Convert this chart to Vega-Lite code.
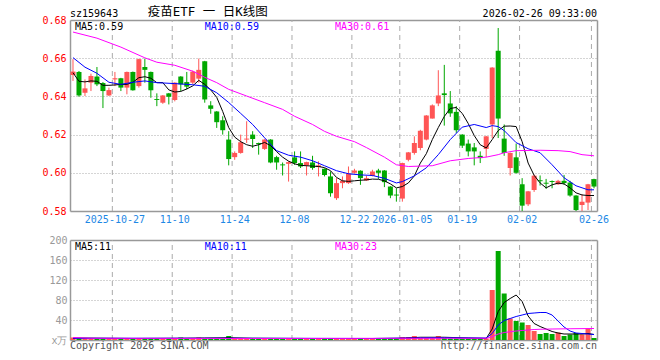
{
"$schema": "https://vega.github.io/schema/vega-lite/v6.json",
"width": 527,
"height": 320,
"autosize": "none",
"padding": {"left": 70, "top": 20, "right": 63, "bottom": 20},
"background": "white",
"config": {"view": {"stroke": null}, "font": "DejaVu Sans Mono"},
"datasets": {
"grid": [{"d":"2025-10-27"},{"d":"2025-11-10"},{"d":"2025-11-24"},{"d":"2025-12-08"},{"d":"2025-12-22"},{"d":"2026-01-05"},{"d":"2026-01-19"},{"d":"2026-02-02"},{"d":"2026-02-26"}],
"k": [
{"d":"2025-10-16","o":0.6512,"h":0.6595,"l":0.6481,"c":0.653,"v":5},
{"d":"2025-10-17","o":0.6528,"h":0.6533,"l":0.6398,"c":0.6405,"v":3},
{"d":"2025-10-20","o":0.6419,"h":0.6489,"l":0.6402,"c":0.6442,"v":3},
{"d":"2025-10-21","o":0.6472,"h":0.6519,"l":0.6428,"c":0.6507,"v":3},
{"d":"2025-10-22","o":0.6504,"h":0.6554,"l":0.6454,"c":0.6463,"v":2},
{"d":"2025-10-23","o":0.647,"h":0.6475,"l":0.6339,"c":0.6428,"v":3},
{"d":"2025-10-24","o":0.6405,"h":0.6446,"l":0.6402,"c":0.6433,"v":3},
{"d":"2025-10-27","o":0.6489,"h":0.6528,"l":0.6454,"c":0.6495,"v":2},
{"d":"2025-10-28","o":0.6495,"h":0.6497,"l":0.6428,"c":0.6446,"v":2},
{"d":"2025-10-29","o":0.6446,"h":0.653,"l":0.6411,"c":0.6528,"v":3},
{"d":"2025-10-30","o":0.6528,"h":0.653,"l":0.643,"c":0.6432,"v":2},
{"d":"2025-10-31","o":0.6454,"h":0.6597,"l":0.6446,"c":0.6595,"v":3},
{"d":"2025-11-03","o":0.6554,"h":0.6598,"l":0.6472,"c":0.6539,"v":3},
{"d":"2025-11-04","o":0.6528,"h":0.653,"l":0.6393,"c":0.6432,"v":2},
{"d":"2025-11-05","o":0.6386,"h":0.6416,"l":0.6349,"c":0.6381,"v":3},
{"d":"2025-11-06","o":0.6367,"h":0.6407,"l":0.6361,"c":0.6405,"v":2},
{"d":"2025-11-07","o":0.6416,"h":0.6418,"l":0.6358,"c":0.6398,"v":2},
{"d":"2025-11-10","o":0.6381,"h":0.6474,"l":0.6374,"c":0.6472,"v":3},
{"d":"2025-11-11","o":0.6504,"h":0.6506,"l":0.6428,"c":0.6463,"v":5},
{"d":"2025-11-12","o":0.6475,"h":0.6528,"l":0.6437,"c":0.6451,"v":3},
{"d":"2025-11-13","o":0.6472,"h":0.6535,"l":0.6465,"c":0.653,"v":3},
{"d":"2025-11-14","o":0.6493,"h":0.6598,"l":0.6472,"c":0.6539,"v":5},
{"d":"2025-11-17","o":0.6584,"h":0.6586,"l":0.6367,"c":0.6384,"v":3},
{"d":"2025-11-18","o":0.6353,"h":0.6375,"l":0.6309,"c":0.6335,"v":3},
{"d":"2025-11-19","o":0.6321,"h":0.6323,"l":0.6235,"c":0.6265,"v":3},
{"d":"2025-11-20","o":0.6275,"h":0.6296,"l":0.62,"c":0.6223,"v":3},
{"d":"2025-11-21","o":0.6174,"h":0.6218,"l":0.6039,"c":0.6072,"v":8},
{"d":"2025-11-24","o":0.6082,"h":0.6112,"l":0.6068,"c":0.6104,"v":3},
{"d":"2025-11-25","o":0.6104,"h":0.62,"l":0.61,"c":0.616,"v":3},
{"d":"2025-11-26","o":0.6174,"h":0.627,"l":0.6156,"c":0.6179,"v":3},
{"d":"2025-11-27","o":0.62,"h":0.6218,"l":0.613,"c":0.6177,"v":2},
{"d":"2025-11-28","o":0.6156,"h":0.6158,"l":0.6095,"c":0.615,"v":3},
{"d":"2025-12-01","o":0.6125,"h":0.6176,"l":0.612,"c":0.6174,"v":3},
{"d":"2025-12-02","o":0.6174,"h":0.6176,"l":0.605,"c":0.6054,"v":3},
{"d":"2025-12-03","o":0.6082,"h":0.6089,"l":0.6016,"c":0.6054,"v":3},
{"d":"2025-12-04","o":0.6044,"h":0.6054,"l":0.5986,"c":0.6039,"v":3},
{"d":"2025-12-05","o":0.6047,"h":0.606,"l":0.5954,"c":0.6056,"v":3},
{"d":"2025-12-08","o":0.6081,"h":0.6112,"l":0.6042,"c":0.6051,"v":3},
{"d":"2025-12-09","o":0.6051,"h":0.6112,"l":0.6025,"c":0.6033,"v":2},
{"d":"2025-12-10","o":0.6039,"h":0.6058,"l":0.5986,"c":0.6056,"v":3},
{"d":"2025-12-11","o":0.6054,"h":0.6089,"l":0.6016,"c":0.6025,"v":3},
{"d":"2025-12-12","o":0.603,"h":0.606,"l":0.5981,"c":0.6039,"v":3},
{"d":"2025-12-15","o":0.6021,"h":0.6023,"l":0.5981,"c":0.5989,"v":2},
{"d":"2025-12-16","o":0.5981,"h":0.6007,"l":0.5875,"c":0.5893,"v":4},
{"d":"2025-12-17","o":0.5867,"h":0.5972,"l":0.5858,"c":0.5946,"v":3},
{"d":"2025-12-18","o":0.5946,"h":0.5981,"l":0.5919,"c":0.5958,"v":3},
{"d":"2025-12-19","o":0.5946,"h":0.6033,"l":0.5942,"c":0.5995,"v":3},
{"d":"2025-12-22","o":0.6,"h":0.6021,"l":0.5995,"c":0.6012,"v":3},
{"d":"2025-12-23","o":0.6011,"h":0.6013,"l":0.5937,"c":0.5972,"v":3},
{"d":"2025-12-24","o":0.596,"h":0.5984,"l":0.5958,"c":0.5972,"v":2},
{"d":"2025-12-25","o":0.5984,"h":0.6016,"l":0.5981,"c":0.6007,"v":2},
{"d":"2025-12-26","o":0.6012,"h":0.6021,"l":0.5968,"c":0.6,"v":3},
{"d":"2025-12-29","o":0.6012,"h":0.6014,"l":0.5925,"c":0.5951,"v":3},
{"d":"2025-12-30","o":0.5928,"h":0.593,"l":0.5867,"c":0.5881,"v":3},
{"d":"2025-12-31","o":0.5886,"h":0.5919,"l":0.5849,"c":0.5881,"v":3},
{"d":"2026-01-05","o":0.5865,"h":0.6053,"l":0.5849,"c":0.6051,"v":6},
{"d":"2026-01-06","o":0.6068,"h":0.6109,"l":0.606,"c":0.6107,"v":6},
{"d":"2026-01-07","o":0.6104,"h":0.6191,"l":0.6095,"c":0.6156,"v":8},
{"d":"2026-01-08","o":0.613,"h":0.6225,"l":0.6118,"c":0.622,"v":4},
{"d":"2026-01-09","o":0.6174,"h":0.6302,"l":0.617,"c":0.63,"v":4},
{"d":"2026-01-12","o":0.6284,"h":0.6358,"l":0.6284,"c":0.6353,"v":4},
{"d":"2026-01-13","o":0.6363,"h":0.6537,"l":0.6349,"c":0.6405,"v":8},
{"d":"2026-01-14","o":0.6416,"h":0.6565,"l":0.6247,"c":0.6407,"v":4},
{"d":"2026-01-15","o":0.6363,"h":0.6428,"l":0.6293,"c":0.6311,"v":3},
{"d":"2026-01-16","o":0.6319,"h":0.6349,"l":0.6209,"c":0.6223,"v":3},
{"d":"2026-01-19","o":0.62,"h":0.6202,"l":0.613,"c":0.6142,"v":3},
{"d":"2026-01-20","o":0.6153,"h":0.6174,"l":0.6086,"c":0.6112,"v":3},
{"d":"2026-01-21","o":0.6133,"h":0.6156,"l":0.6039,"c":0.6112,"v":3},
{"d":"2026-01-22","o":0.6089,"h":0.6112,"l":0.6051,"c":0.6077,"v":3},
{"d":"2026-01-23","o":0.6125,"h":0.6193,"l":0.6082,"c":0.6191,"v":3},
{"d":"2026-01-26","o":0.6253,"h":0.6553,"l":0.6182,"c":0.6551,"v":100},
{"d":"2026-01-27","o":0.6639,"h":0.6758,"l":0.6182,"c":0.6284,"v":178},
{"d":"2026-01-28","o":0.6179,"h":0.6253,"l":0.6089,"c":0.6104,"v":93},
{"d":"2026-01-29","o":0.6025,"h":0.6106,"l":0.5986,"c":0.6104,"v":43},
{"d":"2026-01-30","o":0.6081,"h":0.6153,"l":0.5995,"c":0.6,"v":38},
{"d":"2026-02-02","o":0.594,"h":0.5972,"l":0.58,"c":0.5828,"v":35},
{"d":"2026-02-03","o":0.5835,"h":0.5905,"l":0.5826,"c":0.5903,"v":30},
{"d":"2026-02-04","o":0.591,"h":0.599,"l":0.59,"c":0.5985,"v":18},
{"d":"2026-02-05","o":0.5961,"h":0.5986,"l":0.5933,"c":0.5956,"v":12},
{"d":"2026-02-06","o":0.5948,"h":0.5968,"l":0.5916,"c":0.5943,"v":14},
{"d":"2026-02-09","o":0.5957,"h":0.596,"l":0.5919,"c":0.5952,"v":12},
{"d":"2026-02-10","o":0.594,"h":0.5963,"l":0.5937,"c":0.5958,"v":15},
{"d":"2026-02-11","o":0.5958,"h":0.5989,"l":0.5937,"c":0.5946,"v":8},
{"d":"2026-02-12","o":0.5949,"h":0.5958,"l":0.5875,"c":0.5881,"v":11},
{"d":"2026-02-13","o":0.5881,"h":0.5883,"l":0.58,"c":0.5805,"v":14},
{"d":"2026-02-24","o":0.5832,"h":0.5888,"l":0.58,"c":0.5849,"v":11},
{"d":"2026-02-25","o":0.5844,"h":0.5942,"l":0.5805,"c":0.594,"v":23},
{"d":"2026-02-26","o":0.5967,"h":0.5969,"l":0.5919,"c":0.5928,"v":4}
],
"ma": [
{"d":"2025-10-16","k":"MA5","m":0.6524},{"d":"2025-10-17","k":"MA5","m":0.6479},{"d":"2025-10-20","k":"MA5","m":0.6476},{"d":"2025-10-21","k":"MA5","m":0.6481},{"d":"2025-10-22","k":"MA5","m":0.6479},{"d":"2025-10-23","k":"MA5","m":0.6458},{"d":"2025-10-24","k":"MA5","m":0.6458},{"d":"2025-10-27","k":"MA5","m":0.646},{"d":"2025-10-28","k":"MA5","m":0.6463},{"d":"2025-10-29","k":"MA5","m":0.6463},{"d":"2025-10-30","k":"MA5","m":0.6474},{"d":"2025-10-31","k":"MA5","m":0.6498},{"d":"2025-11-03","k":"MA5","m":0.6503},{"d":"2025-11-04","k":"MA5","m":0.6495},{"d":"2025-11-05","k":"MA5","m":0.6472},{"d":"2025-11-06","k":"MA5","m":0.6472},{"d":"2025-11-07","k":"MA5","m":0.6434},{"d":"2025-11-10","k":"MA5","m":0.6423},{"d":"2025-11-11","k":"MA5","m":0.6426},{"d":"2025-11-12","k":"MA5","m":0.6439},{"d":"2025-11-13","k":"MA5","m":0.6455},{"d":"2025-11-14","k":"MA5","m":0.6484},{"d":"2025-11-17","k":"MA5","m":0.6463},{"d":"2025-11-18","k":"MA5","m":0.6434},{"d":"2025-11-19","k":"MA5","m":0.6395},{"d":"2025-11-20","k":"MA5","m":0.6321},{"d":"2025-11-21","k":"MA5","m":0.6237},{"d":"2025-11-24","k":"MA5","m":0.6187},{"d":"2025-11-25","k":"MA5","m":0.6163},{"d":"2025-11-26","k":"MA5","m":0.6147},{"d":"2025-11-27","k":"MA5","m":0.6139},{"d":"2025-11-28","k":"MA5","m":0.6147},{"d":"2025-12-01","k":"MA5","m":0.6159},{"d":"2025-12-02","k":"MA5","m":0.6142},{"d":"2025-12-03","k":"MA5","m":0.6111},{"d":"2025-12-04","k":"MA5","m":0.6082},{"d":"2025-12-05","k":"MA5","m":0.6061},{"d":"2025-12-08","k":"MA5","m":0.6047},{"d":"2025-12-09","k":"MA5","m":0.6039},{"d":"2025-12-10","k":"MA5","m":0.6037},{"d":"2025-12-11","k":"MA5","m":0.6035},{"d":"2025-12-12","k":"MA5","m":0.6033},{"d":"2025-12-15","k":"MA5","m":0.6027},{"d":"2025-12-16","k":"MA5","m":0.6011},{"d":"2025-12-17","k":"MA5","m":0.5976},{"d":"2025-12-18","k":"MA5","m":0.5958},{"d":"2025-12-19","k":"MA5","m":0.5955},{"d":"2025-12-22","k":"MA5","m":0.5958},{"d":"2025-12-23","k":"MA5","m":0.5961},{"d":"2025-12-24","k":"MA5","m":0.5963},{"d":"2025-12-25","k":"MA5","m":0.5967},{"d":"2025-12-26","k":"MA5","m":0.5966},{"d":"2025-12-29","k":"MA5","m":0.5958},{"d":"2025-12-30","k":"MA5","m":0.5942},{"d":"2025-12-31","k":"MA5","m":0.5921},{"d":"2026-01-05","k":"MA5","m":0.5928},{"d":"2026-01-06","k":"MA5","m":0.5947},{"d":"2026-01-07","k":"MA5","m":0.5984},{"d":"2026-01-08","k":"MA5","m":0.6051},{"d":"2026-01-09","k":"MA5","m":0.61},{"d":"2026-01-12","k":"MA5","m":0.6174},{"d":"2026-01-13","k":"MA5","m":0.6237},{"d":"2026-01-14","k":"MA5","m":0.6295},{"d":"2026-01-15","k":"MA5","m":0.6337},{"d":"2026-01-16","k":"MA5","m":0.6342},{"d":"2026-01-19","k":"MA5","m":0.6311},{"d":"2026-01-20","k":"MA5","m":0.6258},{"d":"2026-01-21","k":"MA5","m":0.6195},{"d":"2026-01-22","k":"MA5","m":0.6147},{"d":"2026-01-23","k":"MA5","m":0.613},{"d":"2026-01-26","k":"MA5","m":0.6174},{"d":"2026-01-27","k":"MA5","m":0.6221},{"d":"2026-01-28","k":"MA5","m":0.6244},{"d":"2026-01-29","k":"MA5","m":0.6245},{"d":"2026-01-30","k":"MA5","m":0.6242},{"d":"2026-02-02","k":"MA5","m":0.6163},{"d":"2026-02-03","k":"MA5","m":0.6051},{"d":"2026-02-04","k":"MA5","m":0.5987},{"d":"2026-02-05","k":"MA5","m":0.5947},{"d":"2026-02-06","k":"MA5","m":0.5921},{"d":"2026-02-09","k":"MA5","m":0.5937},{"d":"2026-02-10","k":"MA5","m":0.5946},{"d":"2026-02-11","k":"MA5","m":0.5942},{"d":"2026-02-12","k":"MA5","m":0.5921},{"d":"2026-02-13","k":"MA5","m":0.5895},{"d":"2026-02-24","k":"MA5","m":0.5884},{"d":"2026-02-25","k":"MA5","m":0.5881},{"d":"2026-02-26","k":"MA5","m":0.5881},
{"d":"2025-10-16","k":"MA10","m":0.6603},{"d":"2025-10-20","k":"MA10","m":0.6553},{"d":"2025-10-22","k":"MA10","m":0.6521},{"d":"2025-10-24","k":"MA10","m":0.6474},{"d":"2025-10-28","k":"MA10","m":0.6463},{"d":"2025-10-30","k":"MA10","m":0.6474},{"d":"2025-11-03","k":"MA10","m":0.6481},{"d":"2025-11-05","k":"MA10","m":0.6472},{"d":"2025-11-10","k":"MA10","m":0.6467},{"d":"2025-11-13","k":"MA10","m":0.6461},{"d":"2025-11-17","k":"MA10","m":0.6453},{"d":"2025-11-19","k":"MA10","m":0.6419},{"d":"2025-11-21","k":"MA10","m":0.6368},{"d":"2025-11-25","k":"MA10","m":0.6311},{"d":"2025-11-27","k":"MA10","m":0.6253},{"d":"2025-12-01","k":"MA10","m":0.6183},{"d":"2025-12-03","k":"MA10","m":0.6116},{"d":"2025-12-05","k":"MA10","m":0.6092},{"d":"2025-12-09","k":"MA10","m":0.6082},{"d":"2025-12-11","k":"MA10","m":0.6063},{"d":"2025-12-15","k":"MA10","m":0.6037},{"d":"2025-12-17","k":"MA10","m":0.6011},{"d":"2025-12-19","k":"MA10","m":0.5995},{"d":"2025-12-23","k":"MA10","m":0.5989},{"d":"2025-12-25","k":"MA10","m":0.5986},{"d":"2025-12-29","k":"MA10","m":0.5971},{"d":"2025-12-31","k":"MA10","m":0.5947},{"d":"2026-01-05","k":"MA10","m":0.5954},{"d":"2026-01-07","k":"MA10","m":0.5984},{"d":"2026-01-09","k":"MA10","m":0.6026},{"d":"2026-01-13","k":"MA10","m":0.6095},{"d":"2026-01-15","k":"MA10","m":0.6174},{"d":"2026-01-19","k":"MA10","m":0.6239},{"d":"2026-01-21","k":"MA10","m":0.6253},{"d":"2026-01-23","k":"MA10","m":0.6237},{"d":"2026-01-26","k":"MA10","m":0.6247},{"d":"2026-01-27","k":"MA10","m":0.6242},{"d":"2026-01-28","k":"MA10","m":0.6221},{"d":"2026-01-30","k":"MA10","m":0.6158},{"d":"2026-02-03","k":"MA10","m":0.6126},{"d":"2026-02-05","k":"MA10","m":0.6105},{"d":"2026-02-09","k":"MA10","m":0.6042},{"d":"2026-02-11","k":"MA10","m":0.5974},{"d":"2026-02-13","k":"MA10","m":0.5932},{"d":"2026-02-25","k":"MA10","m":0.5911},{"d":"2026-02-26","k":"MA10","m":0.5911},
{"d":"2025-10-16","k":"MA30","m":0.6737},{"d":"2025-10-22","k":"MA30","m":0.6705},{"d":"2025-10-28","k":"MA30","m":0.6658},{"d":"2025-11-03","k":"MA30","m":0.6602},{"d":"2025-11-05","k":"MA30","m":0.6579},{"d":"2025-11-10","k":"MA30","m":0.6563},{"d":"2025-11-13","k":"MA30","m":0.6532},{"d":"2025-11-17","k":"MA30","m":0.65},{"d":"2025-11-19","k":"MA30","m":0.6472},{"d":"2025-11-21","k":"MA30","m":0.6437},{"d":"2025-11-26","k":"MA30","m":0.6402},{"d":"2025-12-01","k":"MA30","m":0.6367},{"d":"2025-12-04","k":"MA30","m":0.6332},{"d":"2025-12-08","k":"MA30","m":0.6296},{"d":"2025-12-11","k":"MA30","m":0.6253},{"d":"2025-12-15","k":"MA30","m":0.6217},{"d":"2025-12-17","k":"MA30","m":0.6191},{"d":"2025-12-22","k":"MA30","m":0.6163},{"d":"2025-12-24","k":"MA30","m":0.6132},{"d":"2025-12-29","k":"MA30","m":0.6082},{"d":"2025-12-31","k":"MA30","m":0.6042},{"d":"2026-01-06","k":"MA30","m":0.6033},{"d":"2026-01-12","k":"MA30","m":0.6037},{"d":"2026-01-15","k":"MA30","m":0.6063},{"d":"2026-01-20","k":"MA30","m":0.6075},{"d":"2026-01-23","k":"MA30","m":0.6082},{"d":"2026-01-27","k":"MA30","m":0.6095},{"d":"2026-01-28","k":"MA30","m":0.6105},{"d":"2026-01-30","k":"MA30","m":0.6116},{"d":"2026-02-05","k":"MA30","m":0.6118},{"d":"2026-02-10","k":"MA30","m":0.6116},{"d":"2026-02-12","k":"MA30","m":0.6111},{"d":"2026-02-24","k":"MA30","m":0.6095},{"d":"2026-02-26","k":"MA30","m":0.6089}
],
"vma": [
{"d":"2025-10-16","k":"MA5","m":4},{"d":"2025-10-30","k":"MA5","m":3},{"d":"2025-11-11","k":"MA5","m":3.5},{"d":"2025-11-17","k":"MA5","m":4},{"d":"2025-11-21","k":"MA5","m":4.5},{"d":"2025-11-27","k":"MA5","m":3.5},{"d":"2025-12-11","k":"MA5","m":3},{"d":"2025-12-25","k":"MA5","m":3},{"d":"2026-01-05","k":"MA5","m":3.5},{"d":"2026-01-08","k":"MA5","m":5.5},{"d":"2026-01-14","k":"MA5","m":5.5},{"d":"2026-01-20","k":"MA5","m":4},{"d":"2026-01-23","k":"MA5","m":3},{"d":"2026-01-26","k":"MA5","m":22},{"d":"2026-01-27","k":"MA5","m":57},{"d":"2026-01-28","k":"MA5","m":75},{"d":"2026-01-29","k":"MA5","m":83},{"d":"2026-01-30","k":"MA5","m":90},{"d":"2026-02-02","k":"MA5","m":77},{"d":"2026-02-03","k":"MA5","m":48},{"d":"2026-02-04","k":"MA5","m":33},{"d":"2026-02-05","k":"MA5","m":27},{"d":"2026-02-06","k":"MA5","m":22},{"d":"2026-02-09","k":"MA5","m":17},{"d":"2026-02-10","k":"MA5","m":14},{"d":"2026-02-11","k":"MA5","m":12},{"d":"2026-02-12","k":"MA5","m":12},{"d":"2026-02-13","k":"MA5","m":12},{"d":"2026-02-24","k":"MA5","m":12},{"d":"2026-02-25","k":"MA5","m":13},{"d":"2026-02-26","k":"MA5","m":11},
{"d":"2025-10-16","k":"MA10","m":3.5},{"d":"2025-11-13","k":"MA10","m":3.5},{"d":"2025-11-27","k":"MA10","m":3.5},{"d":"2025-12-25","k":"MA10","m":3},{"d":"2026-01-12","k":"MA10","m":4.5},{"d":"2026-01-23","k":"MA10","m":4},{"d":"2026-01-26","k":"MA10","m":13},{"d":"2026-01-27","k":"MA10","m":30},{"d":"2026-01-28","k":"MA10","m":39},{"d":"2026-01-29","k":"MA10","m":43},{"d":"2026-01-30","k":"MA10","m":47},{"d":"2026-02-02","k":"MA10","m":50},{"d":"2026-02-03","k":"MA10","m":53},{"d":"2026-02-04","k":"MA10","m":54},{"d":"2026-02-05","k":"MA10","m":55},{"d":"2026-02-06","k":"MA10","m":55},{"d":"2026-02-09","k":"MA10","m":50},{"d":"2026-02-10","k":"MA10","m":38},{"d":"2026-02-11","k":"MA10","m":26},{"d":"2026-02-12","k":"MA10","m":18},{"d":"2026-02-13","k":"MA10","m":14},{"d":"2026-02-24","k":"MA10","m":13},{"d":"2026-02-25","k":"MA10","m":12},{"d":"2026-02-26","k":"MA10","m":11},
{"d":"2025-10-16","k":"MA30","m":5},{"d":"2025-10-21","k":"MA30","m":3.5},{"d":"2025-11-27","k":"MA30","m":3},{"d":"2026-01-12","k":"MA30","m":3.5},{"d":"2026-01-23","k":"MA30","m":3.5},{"d":"2026-01-26","k":"MA30","m":6.5},{"d":"2026-01-27","k":"MA30","m":12},{"d":"2026-01-28","k":"MA30","m":15},{"d":"2026-01-29","k":"MA30","m":16.5},{"d":"2026-01-30","k":"MA30","m":18},{"d":"2026-02-02","k":"MA30","m":19},{"d":"2026-02-03","k":"MA30","m":20},{"d":"2026-02-04","k":"MA30","m":21},{"d":"2026-02-05","k":"MA30","m":21.5},{"d":"2026-02-09","k":"MA30","m":22},{"d":"2026-02-12","k":"MA30","m":22.5},{"d":"2026-02-26","k":"MA30","m":23}
]
},
"layer": [
{
"layer": [
{"data": {"name": "grid"}, "mark": {"type": "rule", "color": "#aaaaaa", "strokeDash": [5, 4], "strokeWidth": 1},
 "encoding": {
  "x": {"field": "d", "type": "ordinal", "bandPosition": 0.07, "scale": {"type": "band", "paddingInner": 0, "paddingOuter": 0},
   "axis": {"orient": "bottom", "offset": -129, "values": ["2025-10-27","2025-11-10","2025-11-24","2025-12-08","2025-12-22","2026-01-05","2026-01-19","2026-02-02","2026-02-26"], "labelExpr": "datum.value == '2025-10-27' || datum.value == '2026-01-05' ? datum.value : slice(datum.value, 5)", "domain": false, "ticks": false, "tickSize": 0, "grid": false, "labelAngle": 0, "labelColor": "#1e88e5", "labelFont": "DejaVu Sans Mono", "labelFontSize": 10, "labelPadding": 3, "bandPosition": 0.07, "labelOverlap": false, "title": null}},
  "y": {"datum": 0.58, "type": "quantitative", "scale": {"domain": [0.58, 0.68], "range": [191, 0], "nice": false, "zero": false}, "axis": null},
  "y2": {"datum": 0.68}
 }},
{"data": {"name": "k"}, "mark": {"type": "rule", "strokeWidth": 1},
 "encoding": {
  "x": {"field": "d", "type": "ordinal", "scale": {"type": "band", "paddingInner": 0, "paddingOuter": 0}},
  "y": {"field": "l", "type": "quantitative", "scale": {"domain": [0.58, 0.68], "range": [191, 0], "nice": false, "zero": false},
   "axis": {"orient": "left", "values": [0.58, 0.6, 0.62, 0.64, 0.66, 0.68], "format": ".2f", "title": null, "ticks": false, "tickSize": 0, "labelColor": "#ff0000", "labelFont": "DejaVu Sans Mono", "labelFontSize": 10, "labelPadding": 4, "labelOverlap": false, "domainColor": "#999999", "domainWidth": 1.5, "grid": true,
    "gridColor": {"condition": {"test": "datum.value < 0.585 || datum.value > 0.675", "value": "#999999"}, "value": "#aaaaaa"},
    "gridDash": {"condition": {"test": "datum.value < 0.585 || datum.value > 0.675", "value": []}, "value": [1, 2]},
    "gridWidth": {"condition": {"test": "datum.value < 0.585 || datum.value > 0.675", "value": 1.5}, "value": 1}}},
  "y2": {"field": "h"},
  "color": {"condition": {"test": "datum.c >= datum.o", "value": "#ff5555"}, "value": "#00a800"}
 }},
{"data": {"name": "k"}, "mark": {"type": "bar", "size": 5},
 "encoding": {
  "x": {"field": "d", "type": "ordinal", "scale": {"type": "band", "paddingInner": 0, "paddingOuter": 0}},
  "y": {"field": "o", "type": "quantitative", "scale": {"domain": [0.58, 0.68], "range": [191, 0], "nice": false, "zero": false}, "axis": null},
  "y2": {"field": "c"},
  "color": {"condition": {"test": "datum.c >= datum.o", "value": "#ff5555"}, "value": "#00a800"}
 }},
{"data": {"name": "ma"}, "mark": {"type": "line", "strokeWidth": 1},
 "encoding": {
  "x": {"field": "d", "type": "ordinal", "scale": {"type": "band", "paddingInner": 0, "paddingOuter": 0}},
  "y": {"field": "m", "type": "quantitative", "scale": {"domain": [0.58, 0.68], "range": [191, 0], "nice": false, "zero": false},
   "axis": {"orient": "right", "labels": false, "ticks": false, "grid": false, "title": null, "domainColor": "#999999", "domainWidth": 1.5}},
  "color": {"field": "k", "type": "nominal", "scale": {"domain": ["MA5", "MA10", "MA30"], "range": ["#000000", "#0000ff", "#ff00ff"]}, "legend": null}
 }},
{"data": {"values": [{}]}, "mark": {"type": "text", "align": "left", "baseline": "alphabetic", "dx": -3, "dy": -3.5, "fontSize": 10, "font": "DejaVu Sans Mono", "color": "#000000"},
 "encoding": {"x": {"datum": "2025-10-16", "type": "ordinal"}, "y": {"datum": 0.68, "type": "quantitative", "axis": null}, "text": {"value": "sz159643"}}},
{"data": {"values": [{}]}, "mark": {"type": "text", "align": "center", "baseline": "alphabetic", "dx": -3, "dy": -4, "fontSize": 12.5, "font": "DejaVu Sans Mono, Noto Sans CJK SC", "color": "#000000"},
 "encoding": {"x": {"datum": "2025-11-18", "type": "ordinal"}, "y": {"datum": 0.68, "type": "quantitative", "axis": null}, "text": {"value": "疫苗ETF 一 日K线图"}}},
{"data": {"values": [{}]}, "mark": {"type": "text", "align": "right", "baseline": "alphabetic", "dx": 3, "dy": -3.5, "fontSize": 10, "font": "DejaVu Sans Mono", "color": "#000000"},
 "encoding": {"x": {"datum": "2026-02-26", "type": "ordinal"}, "y": {"datum": 0.68, "type": "quantitative", "axis": null}, "text": {"value": "2026-02-26 09:33:00"}}},
{"data": {"values": [{}]}, "mark": {"type": "text", "align": "left", "baseline": "alphabetic", "dx": 2, "dy": 10, "fontSize": 10, "font": "DejaVu Sans Mono", "color": "#000000"},
 "encoding": {"x": {"datum": "2025-10-16", "type": "ordinal"}, "y": {"datum": 0.68, "type": "quantitative", "axis": null}, "text": {"value": "MA5:0.59"}}},
{"data": {"values": [{}]}, "mark": {"type": "text", "align": "left", "baseline": "alphabetic", "dx": 0, "dy": 10, "fontSize": 10, "font": "DejaVu Sans Mono", "color": "#0000ff"},
 "encoding": {"x": {"datum": "2025-11-17", "type": "ordinal"}, "y": {"datum": 0.68, "type": "quantitative", "axis": null}, "text": {"value": "MA10:0.59"}}},
{"data": {"values": [{}]}, "mark": {"type": "text", "align": "left", "baseline": "alphabetic", "dx": -1.5, "dy": 10, "fontSize": 10, "font": "DejaVu Sans Mono", "color": "#ff00ff"},
 "encoding": {"x": {"datum": "2025-12-17", "type": "ordinal"}, "y": {"datum": 0.68, "type": "quantitative", "axis": null}, "text": {"value": "MA30:0.61"}}}
],
"resolve": {"axis": {"y": "independent"}}
},
{
"layer": [
{"data": {"name": "grid"}, "mark": {"type": "rule", "color": "#aaaaaa", "strokeDash": [5, 4], "strokeWidth": 1},
 "encoding": {
  "x": {"field": "d", "type": "ordinal", "bandPosition": 0.07, "scale": {"type": "band", "paddingInner": 0, "paddingOuter": 0}},
  "y": {"datum": 0, "type": "quantitative", "scale": {"domain": [0, 200], "range": [320, 220], "nice": false, "zero": false},
   "axis": {"orient": "left", "values": [0, 40, 80, 120, 160, 200], "title": null, "ticks": false, "tickSize": 0, "labelColor": "#999999", "labelFont": "DejaVu Sans Mono", "labelFontSize": 10, "labelPadding": 3, "labelOverlap": false, "labelExpr": "datum.value == 0 ? 'x万' : datum.label", "domainColor": "#999999", "domainWidth": 1.5, "grid": true,
    "gridColor": {"condition": {"test": "datum.value < 1 || datum.value > 199", "value": "#999999"}, "value": "#aaaaaa"},
    "gridDash": {"condition": {"test": "datum.value < 1 || datum.value > 199", "value": []}, "value": [1, 2]},
    "gridWidth": {"condition": {"test": "datum.value < 1 || datum.value > 199", "value": 1.5}, "value": 1}}},
  "y2": {"datum": 200}
 }},
{"data": {"name": "k"}, "mark": {"type": "bar", "size": 5},
 "encoding": {
  "x": {"field": "d", "type": "ordinal", "scale": {"type": "band", "paddingInner": 0, "paddingOuter": 0}},
  "y": {"field": "v", "type": "quantitative", "scale": {"domain": [0, 200], "range": [320, 220], "nice": false, "zero": false}, "axis": null},
  "color": {"condition": {"test": "datum.c >= datum.o", "value": "#ff5555"}, "value": "#00a800"}
 }},
{"data": {"name": "vma"}, "mark": {"type": "line", "strokeWidth": 1},
 "encoding": {
  "x": {"field": "d", "type": "ordinal", "scale": {"type": "band", "paddingInner": 0, "paddingOuter": 0}},
  "y": {"field": "m", "type": "quantitative", "scale": {"domain": [0, 200], "range": [320, 220], "nice": false, "zero": false},
   "axis": {"orient": "right", "labels": false, "ticks": false, "grid": false, "title": null, "domainColor": "#999999", "domainWidth": 1.5}},
  "color": {"field": "k", "type": "nominal", "scale": {"domain": ["MA5", "MA10", "MA30"], "range": ["#000000", "#0000ff", "#ff00ff"]}, "legend": null}
 }},
{"data": {"values": [{}]}, "mark": {"type": "text", "align": "left", "baseline": "alphabetic", "dx": 2, "dy": 10, "fontSize": 10, "font": "DejaVu Sans Mono", "color": "#000000"},
 "encoding": {"x": {"datum": "2025-10-16", "type": "ordinal"}, "y": {"datum": 200, "type": "quantitative", "axis": null}, "text": {"value": "MA5:11"}}},
{"data": {"values": [{}]}, "mark": {"type": "text", "align": "left", "baseline": "alphabetic", "dx": 0, "dy": 10, "fontSize": 10, "font": "DejaVu Sans Mono", "color": "#0000ff"},
 "encoding": {"x": {"datum": "2025-11-17", "type": "ordinal"}, "y": {"datum": 200, "type": "quantitative", "axis": null}, "text": {"value": "MA10:11"}}},
{"data": {"values": [{}]}, "mark": {"type": "text", "align": "left", "baseline": "alphabetic", "dx": -1.5, "dy": 10, "fontSize": 10, "font": "DejaVu Sans Mono", "color": "#ff00ff"},
 "encoding": {"x": {"datum": "2025-12-17", "type": "ordinal"}, "y": {"datum": 200, "type": "quantitative", "axis": null}, "text": {"value": "MA30:23"}}},
{"data": {"values": [{}]}, "mark": {"type": "text", "align": "left", "baseline": "alphabetic", "dx": -3, "dy": 8.5, "fontSize": 10, "font": "DejaVu Sans Mono", "color": "#555555"},
 "encoding": {"x": {"datum": "2025-10-16", "type": "ordinal"}, "y": {"datum": 0, "type": "quantitative", "axis": null}, "text": {"value": "Copyright 2026 SINA.COM"}}},
{"data": {"values": [{}]}, "mark": {"type": "text", "align": "right", "baseline": "alphabetic", "dx": 3, "dy": 8.5, "fontSize": 10, "font": "DejaVu Sans Mono", "color": "#555555"},
 "encoding": {"x": {"datum": "2026-02-26", "type": "ordinal"}, "y": {"datum": 0, "type": "quantitative", "axis": null}, "text": {"value": "http://finance.sina.com.cn"}}}
],
"resolve": {"axis": {"y": "independent"}}
}
],
"resolve": {"scale": {"y": "independent"}, "axis": {"y": "independent"}}
}
